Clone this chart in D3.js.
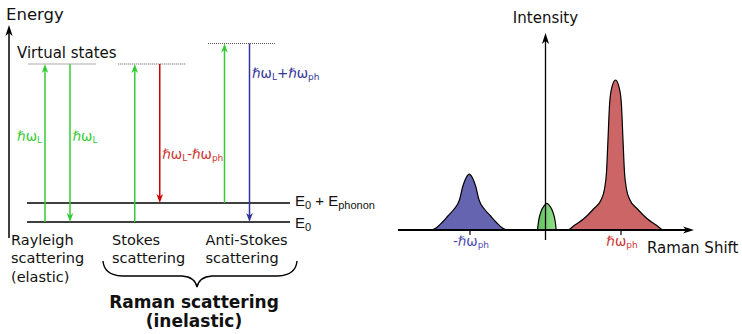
<!DOCTYPE html>
<html>
<head>
<meta charset="utf-8">
<script src="https://cdn.jsdelivr.net/npm/d3@7"></script>
<style>
  body { margin: 0; background: #fff; }
  svg { display: block; }
</style>
</head>
<body>
<script>
// ---- energy diagram data (energies in units of the laser photon energy) ----
const processes = ["Rayleigh", "Stokes", "Anti-Stokes"];
const processText = [["Rayleigh", "scattering", "(elastic)"], ["Stokes", "scattering"], ["Anti-Stokes", "scattering"]];
const virtualLevels = [1.0, 1.0, 1.13];
const groundLevels = [0, 0.12];
const groundText = [["E", "0"], ["E", "0", " + E", "phonon"]];

const transProcess = ["Rayleigh", "Rayleigh", "Stokes", "Stokes", "Anti-Stokes", "Anti-Stokes"];
const transFrom = [0, 1.0, 0, 1.0, 0.12, 1.13];
const transTo = [1.0, 0, 1.0, 0.12, 1.13, 0];
const transText = [["ℏω", "L"], ["ℏω", "L"], null, ["ℏω", "L", "-ℏω", "ph"], null, ["ℏω", "L", "+ℏω", "ph"]];

// ---- spectrum data (shift in units of ℏω_ph, intensity relative to Stokes peak) ----
const antiStokesShift = [-1.51, -1.45, -1.37, -1.29, -1.21, -1.14, -1.096, -1.05, -1.01, -0.97, -0.924, -0.88, -0.81, -0.73, -0.65, -0.57, -0.51];
const antiStokesIntensity = [0, 0.013, 0.05, 0.095, 0.14, 0.20, 0.29, 0.35, 0.373, 0.35, 0.29, 0.20, 0.14, 0.095, 0.05, 0.013, 0];
const rayleighShift = [-0.106, -0.093, -0.06, -0.02, 0.018, 0.056, 0.096, 0.129, 0.142];
const rayleighIntensity = [0, 0.055, 0.122, 0.16, 0.178, 0.16, 0.122, 0.055, 0];
const stokesShift = [0.307, 0.384, 0.503, 0.636, 0.742, 0.781, 0.808, 0.828, 0.848, 0.874, 0.927, 0.980, 1.006, 1.026, 1.046, 1.073, 1.112, 1.218, 1.351, 1.470, 1.547];
const stokesIntensity = [0, 0.031, 0.073, 0.14, 0.207, 0.273, 0.387, 0.607, 0.833, 0.94, 1.0, 0.94, 0.833, 0.607, 0.387, 0.273, 0.207, 0.14, 0.073, 0.031, 0];
const tickShifts = [-1, 1];
const tickText = [["-ℏω", "ph"], ["ℏω", "ph"]];

const green = "#33cc33", red = "#cc0000", blue = "#333399";
const sans = "'DejaVu Sans', Verdana, sans-serif";

const svg = d3.select("body").append("svg")
    .attr("width", 742).attr("height", 334)
    .attr("font-family", sans);

const defs = svg.append("defs");
function marker(id, color, len, half) {
    defs.append("marker").attr("id", id)
        .attr("viewBox", `${-len - 1} ${-half - 1} ${len + 2} ${half * 2 + 2}`)
        .attr("markerUnits", "userSpaceOnUse")
        .attr("markerWidth", len + 2).attr("markerHeight", half * 2 + 2)
        .attr("refX", 0).attr("refY", 0).attr("orient", "auto")
        .append("path")
        .attr("d", `M0,0 L${-len},${-half} L${-len * 0.72},0 L${-len},${half} Z`)
        .attr("fill", color);
}
marker("a-green", green, 9, 3.3);
marker("a-red", red, 9, 3.3);
marker("a-blue", blue, 9, 3.3);
marker("a-black", "#000", 11, 3.6);

// writes text with subscripts: parts alternate normal / subscript
function rich(t, parts, size, subSize, shift) {
    parts.forEach((p, i) => {
        const sub = i % 2 === 1;
        const s = t.append("tspan").text(p).attr("font-size", sub ? subSize : size);
        if (sub) s.attr("dy", shift);
        else if (i > 0) s.attr("dy", -shift);
    });
}

// arrow between two points, line shortened so the head tip lands on the end
function arrow(g, x1, y1, x2, y2, color, id, width) {
    const dx = x2 - x1, dy = y2 - y1, L = Math.hypot(dx, dy);
    g.append("line")
        .attr("x1", x1).attr("y1", y1)
        .attr("x2", x2 - dx / L * 5).attr("y2", y2 - dy / L * 5)
        .attr("stroke", color).attr("stroke-width", width);
    g.append("line")
        .attr("x1", x2 - dx / L * 5).attr("y1", y2 - dy / L * 5)
        .attr("x2", x2).attr("y2", y2)
        .attr("stroke", "none")
        .attr("marker-end", `url(#${id})`);
}

/// Energy level diagram ///

const yE = d3.scaleLinear().domain([0, 1]).range([222, 64]);
const xP = d3.scalePoint().domain(processes).range([57.5, 237]);
const left = svg.append("g");

arrow(left, 9, 238, 9, 25, "#000", "a-black", 1.5);
left.append("text").attr("x", 6).attr("y", 19.5).attr("font-size", 16.5).attr("fill", "#111").text("Energy");
left.append("text").attr("x", 17).attr("y", 57.5).attr("font-size", 15).attr("fill", "#111").text("Virtual states");

// virtual states
left.selectAll(".virtual").data(processes).join("line")
    .attr("x1", d => xP(d) - 29).attr("x2", d => xP(d) + 39)
    .attr("y1", (d, i) => yE(virtualLevels[i])).attr("y2", (d, i) => yE(virtualLevels[i]))
    .attr("stroke", "#555").attr("stroke-width", 1).attr("stroke-dasharray", "1,1");

// ground + phonon levels
left.selectAll(".level").data(groundLevels).join("line")
    .attr("x1", 27).attr("x2", 290)
    .attr("y1", d => yE(d)).attr("y2", d => yE(d))
    .attr("stroke", "#000").attr("stroke-width", 1.5);
const levelDy = [6, 3];
groundLevels.forEach((e, i) => {
    const t = left.append("text").attr("x", 295).attr("y", yE(e) + levelDy[i])
        .attr("font-family", "'Liberation Sans', Arial, sans-serif").attr("fill", "#111");
    rich(t, groundText[i], 15, 11, 2.5);
});

// transitions
const labelEnergy = { "Rayleigh": 0.51, "Stokes": 0.40, "Anti-Stokes": 0.91 };
const labelColor = { "green": "#33cc33", "red": "#cc3333", "blue": "#333399" };
transProcess.forEach((p, i) => {
    const up = transTo[i] > transFrom[i];
    const x = xP(p) + (up ? -12.5 : 12.5);
    const c = up || p === "Rayleigh" ? "green" : (p === "Stokes" ? "red" : "blue");
    const col = { green: green, red: red, blue: blue }[c];
    arrow(left, x, yE(transFrom[i]), x, yE(transTo[i]), col, "a-" + c, 1.5);
    if (transText[i]) {
        const t = left.append("text")
            .attr("x", up ? x - 3 : x + 2.5)
            .attr("y", yE(labelEnergy[p]))
            .attr("text-anchor", up ? "end" : "start")
            .attr("fill", labelColor[c]);
        rich(t, transText[i], 13.5, 9, 2);
    }
});

// process names
const textX = [11, 112, 205.5];
processText.forEach((lines, i) => {
    const t = left.append("text").attr("x", textX[i]).attr("y", 244.5)
        .attr("font-size", 14.5).attr("fill", "#111");
    lines.forEach((l, j) => t.append("tspan").attr("x", textX[i]).attr("dy", j ? 18.5 : 0).text(l));
});

// brace under the Raman processes
left.append("path")
    .attr("d", "M103,261 Q104,275 122,276 L182,276 Q195,277 197,287 Q199,277 212,276 L278,276 Q296,275 297,261")
    .attr("fill", "none").attr("stroke", "#000").attr("stroke-width", 1.4);
left.append("text").attr("x", 194).attr("y", 308).attr("text-anchor", "middle")
    .attr("font-size", 17).attr("font-weight", "bold").attr("fill", "#111").text("Raman scattering");
left.append("text").attr("x", 194).attr("y", 327).attr("text-anchor", "middle")
    .attr("font-size", 17).attr("font-weight", "bold").attr("fill", "#111").text("(inelastic)");

/// Raman spectrum ///

const xS = d3.scaleLinear().domain([-1, 1]).range([470, 621]);
const yI = d3.scaleLinear().domain([0, 1]).range([230, 80]);
const right = svg.append("g");

const grad = defs.append("linearGradient").attr("id", "g-green").attr("x1", 0).attr("x2", 1);
grad.append("stop").attr("offset", 0).attr("stop-color", "#5fbf5f");
grad.append("stop").attr("offset", 1).attr("stop-color", "#95e08d");

const peaks = [
    { xs: antiStokesShift, ys: antiStokesIntensity, fill: "#6464b0" },
    { xs: rayleighShift, ys: rayleighIntensity, fill: "url(#g-green)" },
    { xs: stokesShift, ys: stokesIntensity, fill: "#cc6666" }
];
const area = d3.area().x(d => xS(d[0])).y0(yI(0)).y1(d => yI(d[1])).curve(d3.curveMonotoneX);
const line = d3.line().x(d => xS(d[0])).y(d => yI(d[1])).curve(d3.curveMonotoneX);
peaks.forEach(pk => {
    const pts = pk.xs.map((x, i) => [x, pk.ys[i]]);
    right.append("path").attr("d", area(pts)).attr("fill", pk.fill);
    right.append("path").attr("d", line(pts)).attr("fill", "none")
        .attr("stroke", "#000").attr("stroke-width", 1.2);
});

// axes
arrow(right, xS(0), 240, xS(0), 33, "#000", "a-black", 1.3);
arrow(right, 398, yI(0), 694, yI(0), "#000", "a-black", 2);
right.selectAll(".tick").data(tickShifts).join("line")
    .attr("x1", d => xS(d)).attr("x2", d => xS(d))
    .attr("y1", yI(0)).attr("y2", yI(0) + 5)
    .attr("stroke", "#000").attr("stroke-width", 1.2);
const tickColor = ["#4d4db0", "#cc3333"];
tickShifts.forEach((s, i) => {
    const t = right.append("text").attr("x", xS(s) + 1).attr("y", 246)
        .attr("text-anchor", "middle").attr("fill", tickColor[i]);
    rich(t, tickText[i], 13.5, 9, 2);
});
right.append("text").attr("x", xS(0)).attr("y", 22.5).attr("text-anchor", "middle")
    .attr("font-size", 15).attr("fill", "#111").text("Intensity");
right.append("text").attr("x", 647).attr("y", 253)
    .attr("font-size", 15).attr("fill", "#111").text("Raman Shift");
</script>
</body>
</html>
